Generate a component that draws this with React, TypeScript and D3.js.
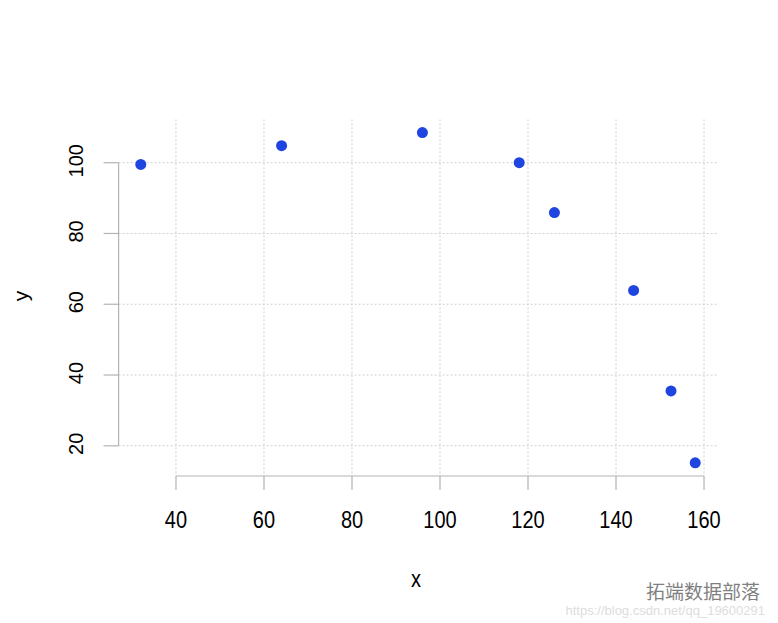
import React from "react";
import * as d3 from "d3";

const xValues = [32, 64, 96, 118, 126, 144, 152.5, 158];
const yValues = [99.5, 104.8, 108.5, 100, 85.9, 63.9, 35.5, 15.2];
const xTicks = [40, 60, 80, 100, 120, 140, 160];
const yTicks = [20, 40, 60, 80, 100];

const W = 778;
const H = 623;

function extend(ext: [number, number]): [number, number] {
  const d = (ext[1] - ext[0]) * 0.04;
  return [ext[0] - d, ext[1] + d];
}

export default function App() {
  const xs = d3
    .scaleLinear()
    .domain(extend(d3.extent(xValues) as [number, number]))
    .range([118.6, 717.4]);
  const ys = d3
    .scaleLinear()
    .domain(extend(d3.extent(yValues) as [number, number]))
    .range([476, 119.4]);
  const [x0, x1] = xs.range();
  const [yb, yt] = ys.range();
  const font = "'Liberation Sans', Arial, sans-serif";
  const gridColor = "#cfcfcf";
  const axisColor = "#b3b3b3";
  const pts = xValues.map((x, i) => ({ x, y: yValues[i] }));

  return (
    <svg
      width={W}
      height={H}
      style={{ position: "absolute", left: 0, top: 0, background: "#fff" }}
      fontFamily={font}
    >
      {/* grid */}
      {xTicks.map((t) => (
        <line
          key={"gx" + t}
          x1={xs(t)}
          x2={xs(t)}
          y1={yt}
          y2={yb}
          stroke={gridColor}
          strokeDasharray="2,2"
          strokeWidth={1}
        />
      ))}
      {yTicks.map((t) => (
        <line
          key={"gy" + t}
          x1={x0}
          x2={x1}
          y1={ys(t)}
          y2={ys(t)}
          stroke={gridColor}
          strokeDasharray="2,2"
          strokeWidth={1}
        />
      ))}
      {/* x axis */}
      <line
        x1={xs(xTicks[0])}
        x2={xs(xTicks[xTicks.length - 1])}
        y1={yb}
        y2={yb}
        stroke={axisColor}
        strokeWidth={1.2}
      />
      {xTicks.map((t) => (
        <g key={"xt" + t}>
          <line x1={xs(t)} x2={xs(t)} y1={yb} y2={yb + 14} stroke={axisColor} strokeWidth={1.2} />
          <text
            transform={`translate(${xs(t)},528) scale(1,1.2)`}
            textAnchor="middle"
            fontSize={20}
            fill="#000"
          >
            {t}
          </text>
        </g>
      ))}
      {/* y axis */}
      <line
        x1={x0}
        x2={x0}
        y1={ys(yTicks[0])}
        y2={ys(yTicks[yTicks.length - 1])}
        stroke={axisColor}
        strokeWidth={1.2}
      />
      {yTicks.map((t) => (
        <g key={"yt" + t}>
          <line x1={x0 - 15} x2={x0} y1={ys(t)} y2={ys(t)} stroke={axisColor} strokeWidth={1.2} />
          <text
            transform={`translate(83,${ys(t) - 2}) rotate(-90)`}
            textAnchor="middle"
            fontSize={20}
            fill="#000"
          >
            {t}
          </text>
        </g>
      ))}
      {/* axis titles */}
      <text
        transform="translate(416,587) scale(1,1.2)"
        textAnchor="middle"
        fontSize={20}
        fill="#000"
      >
        x
      </text>
      <text transform="translate(28,296) rotate(-90)" textAnchor="middle" fontSize={21} fill="#000">
        y
      </text>
      {/* points */}
      {pts.map((p, i) => (
        <circle key={i} cx={xs(p.x)} cy={ys(p.y)} r={5.5} fill="#1f45e0" />
      ))}
      {/* watermark */}
      <text x={760} y={599} textAnchor="end" fontSize={19} fill="#555" opacity={0.75}
        fontFamily="'Noto Sans CJK SC', sans-serif">
        拓端数据部落
      </text>
      <text x={765} y={615} textAnchor="end" fontSize={13} fill="#ddd">
        https://blog.csdn.net/qq_19600291
      </text>
    </svg>
  );
}
